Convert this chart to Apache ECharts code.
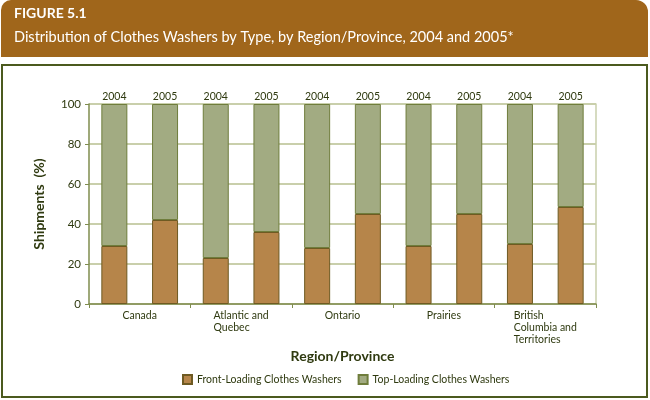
<!DOCTYPE html>
<html>
<head>
<meta charset="utf-8">
<script src="https://cdn.jsdelivr.net/npm/echarts@6/dist/echarts.min.js"></script>
<style>
  html, body { margin: 0; padding: 0; background: #fff; }
  #chart { width: 650px; height: 400px; }
</style>
</head>
<body>
<div id="chart"></div>
<script>
const regions = ['Canada', 'Atlantic and\nQuebec', 'Ontario', 'Prairies', 'British\nColumbia and\nTerritories'];
const years = ['2004', '2005', '2004', '2005', '2004', '2005', '2004', '2005', '2004', '2005'];
const frontLoading = [29, 42, 23, 36, 28, 45, 29, 45, 30, 48.5];
const topLoading = [71, 58, 77, 64, 72, 55, 71, 55, 70, 51.5];

const textColor = '#2f3a10';
const font = 'Lato';

const chart = echarts.init(document.getElementById('chart'));

const option = {
    animation: false,
    textStyle: { fontFamily: font },
    graphic: [
        {
            type: 'rect',
            shape: { x: 1, y: 0, width: 647, height: 57, r: [10, 12, 0, 0] },
            style: { fill: '#a0661b' }
        },
        {
            type: 'text',
            left: 14, top: 6,
            style: { text: 'FIGURE 5.1', fill: '#fff', font: 'bold 14px Lato' }
        },
        {
            type: 'text',
            left: 14, top: 30,
            style: { text: 'Distribution of Clothes Washers by Type, by Region/Province, 2004 and 2005*', fill: '#fff', font: '14.5px Lato' }
        },
        {
            type: 'rect',
            shape: { x: 2, y: 65, width: 645, height: 332 },
            style: { fill: 'none', stroke: '#4b5a1e', lineWidth: 2 }
        }
    ],
    grid: { left: 89, right: 54, top: 104, bottom: 96 },
    legend: {
        left: 177,
        top: 369,
        icon: 'rect',
        itemWidth: 9,
        itemHeight: 9,
        itemGap: 16,
        textStyle: { color: textColor, fontSize: 10.5, fontFamily: font },
        data: ['Front-Loading Clothes Washers', 'Top-Loading Clothes Washers']
    },
    xAxis: [
        {
            type: 'category',
            data: years,
            position: 'top',
            axisLine: { show: false },
            axisTick: { show: false },
            axisLabel: { color: textColor, fontSize: 10.5, margin: 2, interval: 0 }
        },
        {
            type: 'category',
            data: regions,
            position: 'bottom',
            axisLine: { show: true, lineStyle: { color: '#7f8c4e', width: 1.5 } },
            axisTick: { show: true, length: 4, lineStyle: { color: '#7f8c4e' } },
            axisLabel: {
                interval: 0,
                color: textColor,
                fontSize: 10.5,
                margin: 6,
                lineHeight: 12,
                formatter: (v) => v.split('\n').map(s => '{l|' + s + '}').join('\n'),
                rich: { l: { align: 'left', color: textColor, fontSize: 10.5, lineHeight: 12 } }
            },
            name: 'Region/Province',
            nameLocation: 'middle',
            nameGap: 45,
            nameTextStyle: { color: textColor, fontSize: 14, fontWeight: 'bold' }
        }
    ],
    yAxis: [
        {
            type: 'value',
            min: 0,
            max: 100,
            interval: 20,
            axisLine: { show: true, lineStyle: { color: '#7f8c4e', width: 1.5 } },
            axisTick: { show: true, length: 4, lineStyle: { color: '#7f8c4e' } },
            splitLine: { lineStyle: { color: '#c9cfab', width: 2 } },
            axisLabel: { color: textColor, fontSize: 11.5, margin: 8 },
            name: 'Shipments  (%)',
            nameLocation: 'middle',
            nameGap: 43,
            nameTextStyle: { color: textColor, fontSize: 14, fontWeight: 'bold' }
        },
        {
            type: 'value',
            position: 'right',
            min: 0,
            max: 100,
            axisLine: { show: true, lineStyle: { color: '#c9cfab', width: 1.5 } },
            axisTick: { show: false },
            axisLabel: { show: false },
            splitLine: { show: false }
        }
    ],
    series: [
        {
            name: 'Front-Loading Clothes Washers',
            type: 'bar',
            stack: 'washers',
            xAxisIndex: 0,
            yAxisIndex: 0,
            barWidth: 26,
            data: frontLoading,
            itemStyle: { color: '#b6854a', borderColor: '#6e5a22', borderWidth: 1 }
        },
        {
            name: 'Top-Loading Clothes Washers',
            type: 'bar',
            stack: 'washers',
            xAxisIndex: 0,
            yAxisIndex: 0,
            barWidth: 26,
            data: topLoading,
            itemStyle: { color: '#a2ab82', borderColor: '#6f7d3c', borderWidth: 1 }
        }
    ]
};

chart.setOption(option);
</script>
</body>
</html>
